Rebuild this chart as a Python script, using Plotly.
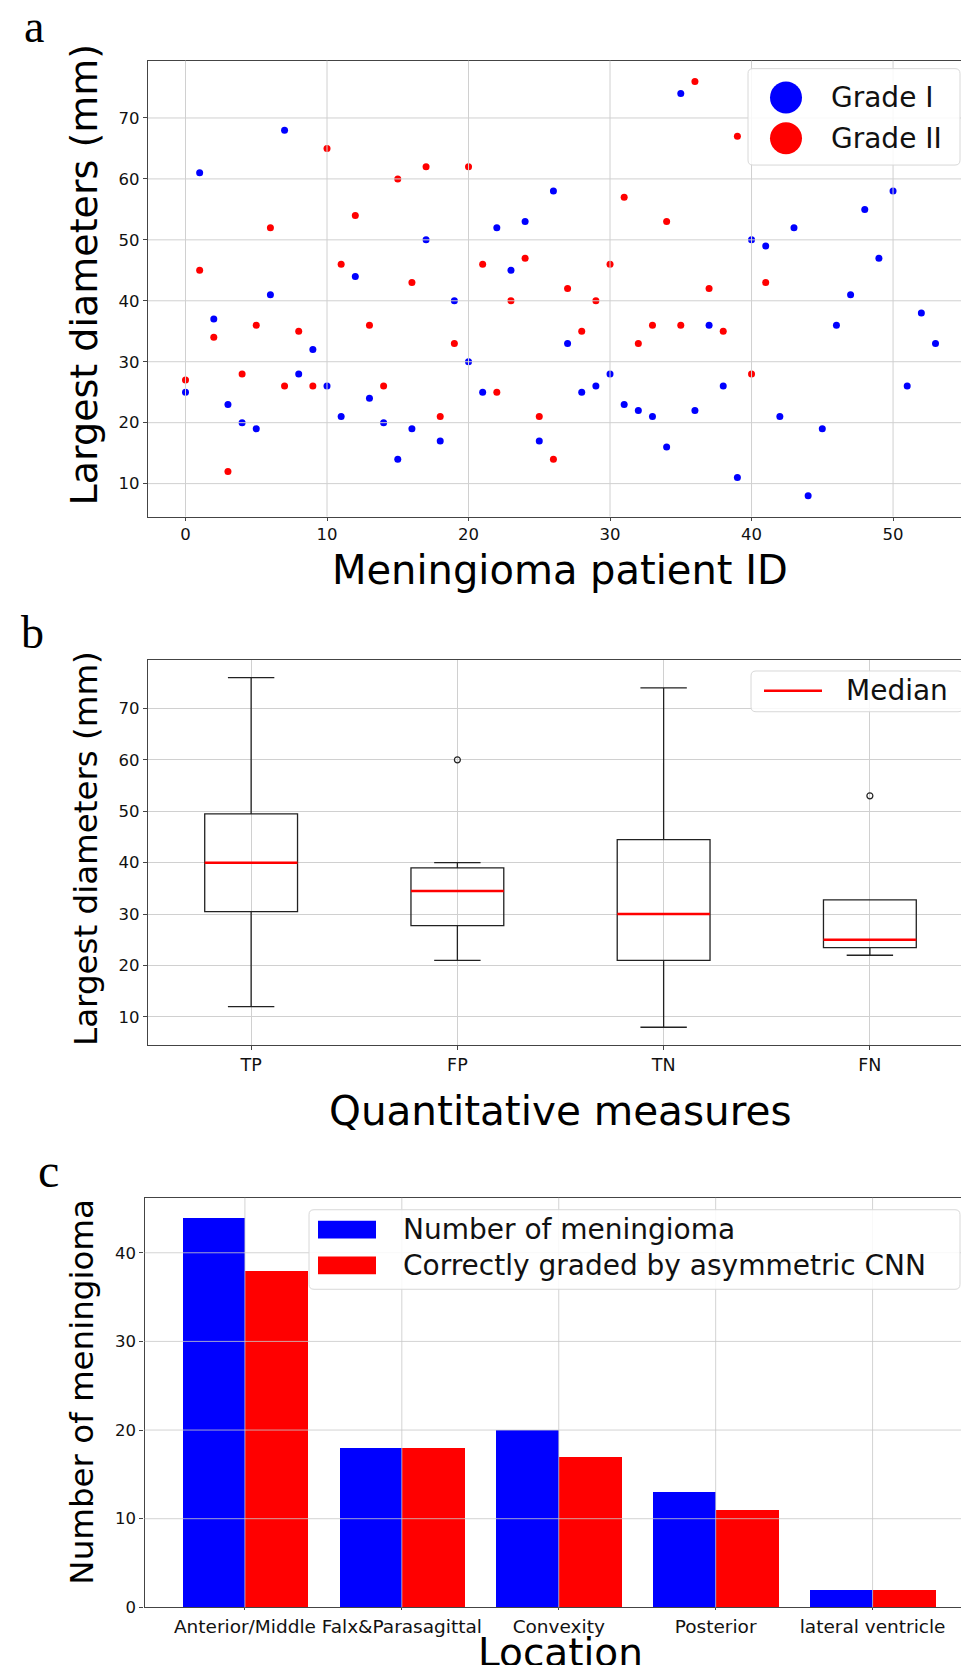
import plotly.graph_objects as go

W, H = 969, 1665

# ---------------- data ----------------
# Panel a: largest diameters per patient ID
grade1_diam = [25, 61, 37, 23, 20, 19, 41, 68, 28, 32,
               26, 21, 44, 24, 20, 14, 19, 50, 17, 40,
               30, 25, 52, 45, 53, 17, 58, 33, 25, 26,
               28, 23, 22, 21, 16, 74, 22, 36, 26, 11,
               50, 49, 21, 52, 8, 19, 36, 41, 55, 47,
               58, 26, 38, 33]
grade2_diam = [27, 45, 34, 12, 28, 36, 52, 26, 35, 26,
               65, 46, 54, 36, 26, 60, 43, 62, 21, 33,
               62, 46, 25, 40, 47, 21, 14, 42, 35, 40,
               46, 57, 33, 36, 53, 36, 76, 42, 35, 67,
               28, 43]
grade1_id = list(range(len(grade1_diam)))
grade2_id = list(range(len(grade2_diam)))

# Panel b: box statistics
measures = ["TP", "FP", "TN", "FN"]
box_low = [12, 21, 8, 22]
box_q1 = [30.5, 27.75, 21, 23.5]
box_median = [40, 34.5, 30, 25]
box_q3 = [49.5, 39, 44.5, 32.75]
box_high = [76, 40, 74, 32.75]
outlier_measure = ["FP", "FN"]
outlier_value = [60, 53]

# Panel c: location counts
locations = ["Anterior/Middle", "Falx&Parasagittal", "Convexity", "Posterior", "lateral ventricle"]
n_meningioma = [44, 18, 20, 13, 2]
n_correct = [38, 18, 17, 11, 2]

# ---------------- helpers ----------------
def PX(x):
    return x / W

def PY(y):
    return 1 - y / H

FONT = "DejaVu Sans, Noto Sans, sans-serif"
SERIF = "Liberation Serif, DejaVu Serif, serif"
GRID = "#d0d0d0"
SPINE = "#444444"

fig = go.Figure()

# ---- panel a ----
fig.add_trace(go.Scatter(x=grade1_id, y=grade1_diam, mode="markers", name="Grade I",
                         marker=dict(color="#0000ff", size=7), xaxis="x", yaxis="y",
                         showlegend=False))
fig.add_trace(go.Scatter(x=grade2_id, y=grade2_diam, mode="markers", name="Grade II",
                         marker=dict(color="#ff0000", size=7), xaxis="x", yaxis="y",
                         showlegend=False))

# ---- panel b ----
pos = {m: i + 1 for i, m in enumerate(measures)}
box_x = [pos[m] for m in measures]
BOXW = 0.45
fig.add_trace(go.Box(x=box_x, q1=box_q1, median=box_median, q3=box_q3,
                     lowerfence=box_low, upperfence=box_high, width=BOXW,
                     whiskerwidth=0.5, boxpoints=False,
                     line=dict(color="#222222", width=1.3),
                     fillcolor="rgba(0,0,0,0)", xaxis="x2", yaxis="y2",
                     showlegend=False, name=""))
med_x, med_y = [], []
for p, m in zip(box_x, box_median):
    med_x += [p - BOXW / 2, p + BOXW / 2, None]
    med_y += [m, m, None]
fig.add_trace(go.Scatter(x=med_x, y=med_y, mode="lines", name="Median",
                         line=dict(color="#ff0000", width=2.5),
                         xaxis="x2", yaxis="y2", showlegend=False))
fig.add_trace(go.Scatter(x=[pos[m] for m in outlier_measure], y=outlier_value, mode="markers",
                         marker=dict(symbol="circle-open", size=6, color="#222222",
                                     line=dict(width=1.2)),
                         xaxis="x2", yaxis="y2", showlegend=False, name="outliers"))

# ---- panel c ----
loc_x = list(range(len(locations)))
fig.add_trace(go.Bar(x=loc_x, y=n_meningioma, width=0.4, offset=-0.4,
                     marker=dict(color="#0000ff", line=dict(width=0)),
                     name="Number of meningioma", xaxis="x3", yaxis="y3", showlegend=False))
fig.add_trace(go.Bar(x=loc_x, y=n_correct, width=0.4, offset=0.0,
                     marker=dict(color="#ff0000", line=dict(width=0)),
                     name="Correctly graded by asymmetric CNN", xaxis="x3", yaxis="y3",
                     showlegend=False))

# ---------------- axes ----------------
def axis_common(fs, tl=4):
    return dict(showline=True, mirror=True, linecolor=SPINE, linewidth=1.2,
                ticks="outside", ticklen=tl, tickcolor=SPINE, tickwidth=1,
                zeroline=False, tickfont=dict(family=FONT, size=fs, color="#111111"),
                gridcolor=GRID, gridwidth=1)

a_x = [0, 10, 20, 30, 40, 50]
a_y = [10, 20, 30, 40, 50, 60, 70]
c_y = [0, 10, 20, 30, 40]

layout = dict(
    width=W, height=H, margin=dict(l=0, r=0, t=0, b=0),
    paper_bgcolor="white", plot_bgcolor="white", showlegend=False,
    barmode="overlay", bargap=0,
    xaxis=dict(domain=[PX(140), PX(965)], range=[-2.65, 55.65], tickvals=a_x,
               anchor="y", showgrid=False, **axis_common(16.5, 3)),
    yaxis=dict(domain=[PY(511.6), PY(53)], range=[4.6, 79.4], tickvals=a_y,
               anchor="x", showgrid=False, **axis_common(16.5)),
    xaxis2=dict(domain=[PX(140), PX(965)], range=[0.5, 4.5], tickvals=box_x,
                ticktext=measures, anchor="y2", showgrid=True, **axis_common(17.5)),
    yaxis2=dict(domain=[PY(1043), PY(656)], range=[4.6, 79.4], tickvals=a_y,
                anchor="x2", showgrid=True, **axis_common(16.5)),
    xaxis3=dict(domain=[PX(136.5), PX(965)], range=[-0.64, 4.64], tickvals=loc_x,
                ticktext=locations, anchor="y3", showgrid=False, **axis_common(18.5, 2)),
    yaxis3=dict(domain=[PY(1609), PY(1197)], range=[0, 46.2], tickvals=c_y,
                anchor="x3", showgrid=False, **axis_common(16.5)),
)
fig.update_layout(**layout)

shapes = []
# grid lines drawn above markers/bars (matplotlib style) for panels a and c
for v in a_x:
    shapes.append(dict(type="line", xref="x", yref="y domain", x0=v, x1=v, y0=0, y1=1,
                       line=dict(color=GRID, width=1), layer="above"))
for v in a_y:
    shapes.append(dict(type="line", xref="x domain", yref="y", x0=0, x1=1, y0=v, y1=v,
                       line=dict(color=GRID, width=1), layer="above"))
for v in loc_x:
    shapes.append(dict(type="line", xref="x3", yref="y3 domain", x0=v, x1=v, y0=0, y1=1,
                       line=dict(color="rgba(200,200,200,0.8)", width=1), layer="above"))
for v in c_y[1:]:
    shapes.append(dict(type="line", xref="x3 domain", yref="y3", x0=0, x1=1, y0=v, y1=v,
                       line=dict(color="rgba(200,200,200,0.8)", width=1), layer="above"))


def rrect(x0, y0, x1, y1, r=5):
    p = (f"M {PX(x0 + r)},{PY(y0)} L {PX(x1 - r)},{PY(y0)} Q {PX(x1)},{PY(y0)} {PX(x1)},{PY(y0 + r)} "
         f"L {PX(x1)},{PY(y1 - r)} Q {PX(x1)},{PY(y1)} {PX(x1 - r)},{PY(y1)} "
         f"L {PX(x0 + r)},{PY(y1)} Q {PX(x0)},{PY(y1)} {PX(x0)},{PY(y1 - r)} "
         f"L {PX(x0)},{PY(y0 + r)} Q {PX(x0)},{PY(y0)} {PX(x0 + r)},{PY(y0)} Z")
    return dict(type="path", xref="paper", yref="paper", path=p,
                fillcolor="rgba(255,255,255,0.85)", line=dict(color="#d8d8d8", width=1),
                layer="above")

annotations = []
LEG_FS = 28

# legend a
shapes.append(rrect(740, 61, 952, 158))
for yc, col, lab in [(90, "#0000ff", "Grade I"), (131, "#ff0000", "Grade II")]:
    shapes.append(dict(type="circle", xref="paper", yref="paper", xsizemode="pixel",
                       ysizemode="pixel", xanchor=PX(778), yanchor=PY(yc),
                       x0=-16, x1=16, y0=-16, y1=16, fillcolor=col,
                       line=dict(width=0), layer="above"))
    annotations.append(dict(x=PX(821), y=PY(yc), xref="paper", yref="paper", text=lab,
                            showarrow=False, xanchor="left", yanchor="middle",
                            font=dict(family=FONT, size=LEG_FS, color="#111111")))

# legend b
shapes.append(rrect(743, 667, 955, 708))
shapes.append(dict(type="line", xref="paper", yref="paper", x0=PX(756), x1=PX(814),
                   y0=PY(687), y1=PY(687), line=dict(color="#ff0000", width=2.5), layer="above"))
annotations.append(dict(x=PX(836), y=PY(687), xref="paper", yref="paper", text="Median",
                        showarrow=False, xanchor="left", yanchor="middle",
                        font=dict(family=FONT, size=LEG_FS, color="#111111")))

# legend c
shapes.append(rrect(301, 1209, 952, 1289))
for (y0, y1), col, lab in [((1220, 1238), "#0000ff", "Number of meningioma"),
                           ((1256, 1274), "#ff0000", "Correctly graded by asymmetric CNN")]:
    shapes.append(dict(type="rect", xref="paper", yref="paper", x0=PX(310), x1=PX(368),
                       y0=PY(y1), y1=PY(y0), fillcolor=col, line=dict(width=0), layer="above"))
    annotations.append(dict(x=PX(393), y=PY((y0 + y1) / 2), xref="paper", yref="paper",
                            text=lab, showarrow=False, xanchor="left", yanchor="middle",
                            font=dict(family=FONT, size=LEG_FS, color="#111111")))

# axis titles
def title(text, x, y, size, angle=0):
    annotations.append(dict(x=PX(x), y=PY(y), xref="paper", yref="paper", text=text,
                            showarrow=False, xanchor="center", yanchor="middle",
                            textangle=angle, font=dict(family=FONT, size=size, color="#000000")))

title("Meningioma patient ID", 552, 565, 40)
title("Largest diameters (mm)", 76, 268, 38, -90)
title("Quantitative measures", 552, 1110, 40.5)
title("Largest diameters (mm)", 78, 846, 32.5, -90)
title("Location", 552, 1654, 39)
title("Number of meningioma", 74, 1392, 32.5, -90)

# panel letters
for lab, x, y, s in [("a", 26, 19, 46), ("b", 24, 628, 46), ("c", 40, 1170, 48)]:
    annotations.append(dict(x=PX(x), y=PY(y), xref="paper", yref="paper", text=lab,
                            showarrow=False, xanchor="center", yanchor="middle",
                            font=dict(family=SERIF, size=s, color="#000000")))

fig.update_layout(shapes=shapes, annotations=annotations)
fig.write_html("out.html")
